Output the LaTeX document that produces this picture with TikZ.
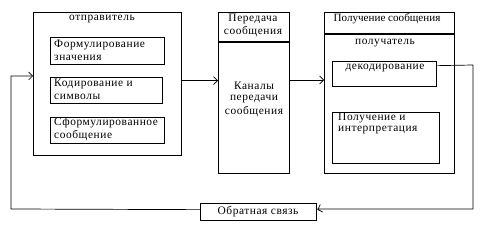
\documentclass[tikz,border=0pt]{standalone}
\usepackage{fontspec}
\setmainfont{Liberation Serif}
\newfontfamily\spaced[LetterSpace=5]{Liberation Serif}
\usetikzlibrary{arrows.meta}
\begin{document}
\begin{tikzpicture}[x=1pt,y=-1pt,
  box/.style={draw, line width=1.3pt, anchor=north west, inner sep=0pt},
  txt/.style={font=\spaced\fontsize{11.4}{13}\selectfont, inner sep=0pt},
  stxt/.style={font=\fontsize{11.1}{13}\selectfont, inner sep=0pt},
  ltxt/.style={txt, anchor=west},
  conn/.style={line width=0.7pt, -{Straight Barb[length=4pt,width=8pt]}},
  wire/.style={line width=0.7pt}]
\useasboundingbox (0,0) rectangle (482,229);
% sender
\node[box, minimum width=148pt, minimum height=143pt] (snd) at (33,12) {};
\node[txt] (sndt) at (102,19) {отправитель};
\node[box, minimum width=114pt, minimum height=27pt] (b1) at (50,37) {};
\node[ltxt] (b1a) at (54,45) {Формулирование};
\node[ltxt] (b1b) at (54,58) {значения};
\node[box, minimum width=112pt, minimum height=26pt] (b2) at (50,77) {};
\node[ltxt] (b2a) at (54,84) {Кодирование и};
\node[ltxt] (b2b) at (54,97) {символы};
\node[box, minimum width=114pt, minimum height=26pt] (b3) at (50,117) {};
\node[ltxt] (b3a) at (54,123) {Сформулированное};
\node[ltxt] (b3b) at (54,136) {сообщение};
% channel
\node[box, minimum width=71pt, minimum height=161pt] (chan) at (218,12) {};
\draw[line width=1.3pt] (218,42) coordinate (ch1) -- (289,42) coordinate (ch2);
\node[txt] (cht1) at (253,19) {Передача};
\node[txt] (cht2) at (253,32) {сообщения};
\node[txt] (chb1) at (254,86) {Каналы};
\node[txt] (chb2) at (254,99) {передачи};
\node[txt] (chb3) at (254,112) {сообщения};
% receiver
\node[box, minimum width=130pt, minimum height=161pt] (rcv) at (324,12) {};
\draw[line width=1.3pt] (324,34) coordinate (rc1) -- (454,34) coordinate (rc2);
\node[stxt] (rcvt) at (387,19) {Получение сообщения};
\node[txt] (rcvs) at (385,43) {получатель};
\node[box, minimum width=104pt, minimum height=25pt] (dec) at (332,61) {};
\node[txt] (dect) at (385,68) {декодирование};
\node[box, minimum width=107pt, minimum height=51pt] (int) at (332,112) {};
\node[ltxt] (inta) at (338,118) {Получение и};
\node[ltxt] (intb) at (338,130) {интерпретация};
% feedback
\node[box, minimum width=116pt, minimum height=17pt] (fb) at (200,203) {};
\node[txt] (fbt) at (258,212) {Обратная связь};
% connectors
\coordinate (s1) at ([yshift=3.5pt]snd.east);
\draw[conn] (s1) -- (s1 -| chan.west);
\coordinate (c1) at (289,80);
\draw[conn] (c1) -- (c1 -| rcv.west);
\coordinate (d1) at ([yshift=8.5pt]dec.east);
\coordinate (r1) at (473,65);
\coordinate (r2) at (473,209);
\coordinate (f1) at ([yshift=2.5pt]fb.east);
\draw[wire] (d1) -- (r1) -- (r2) -- (r2 -| f1);
\draw[conn] (r2 -| f1) ++(2,0) -- (f1);
\coordinate (f2) at ([yshift=2.5pt]fb.west);
\coordinate (l1) at (11,209);
\coordinate (l2) at (11,76);
\coordinate (l3) at (33,76);
\draw[conn] (f2) -- (l1) -- (l2) -- (l3);
\end{tikzpicture}
\end{document}
